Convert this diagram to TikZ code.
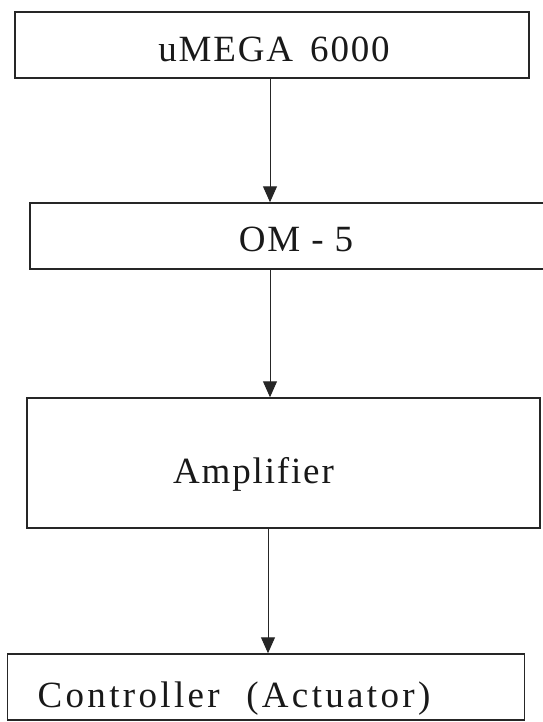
\documentclass[tikz,border=0pt]{standalone}
\usepackage{fontspec}
\usetikzlibrary{arrows.meta}
\newfontfamily\boxfont{Liberation Serif}[LetterSpace=5]
\begin{document}
\begin{tikzpicture}[x=1pt,y=-1pt,
  blockbox/.style={draw=black!85, line width=1.5pt, rectangle, inner sep=0pt},
  blocktext/.style={anchor=base, inner sep=0pt, font=\boxfont\fontsize{37}{44}\selectfont, text=black!90},
  flow/.style={draw=black!85, line width=1pt, -{Triangle[length=16pt,width=14pt]}}]
  \useasboundingbox (0,0) rectangle (542,722);
  \fill[white] (0,0) rectangle (542,722);

  % blocks
  \node[blockbox, minimum width=514pt, minimum height=66pt] (mega) at (272,45) {};
  \node[blockbox, minimum width=518pt, minimum height=66pt] (om)   at (289,236) {};
  \node[blockbox, minimum width=513pt, minimum height=130pt] (amp) at (283.5,463) {};
  \node[blockbox, minimum width=517pt, minimum height=66pt] (ctrl) at (266,687) {};

  % labels
  \node[blocktext] (megat) at (274,61.5) {uMEGA\hspace{6pt} 6000};
  \node[blocktext] (omt)   at (296,251.5) {OM - 5};
  \node[blocktext] (ampt)  at (253.5,483) {Amplifier};
  \node[blocktext] (ctrlt) at (234,707.5) {\addfontfeature{LetterSpace=9}Controller\hspace{14pt} (Actuator)};

  % signal path
  \coordinate (pa) at (270,0);
  \coordinate (pb) at (270,0);
  \coordinate (pc) at (268,0);
  \draw[flow] (mega.south -| pa) -- (om.north -| pa);
  \draw[flow] (om.south -| pb) -- (amp.north -| pb);
  \draw[flow] (amp.south -| pc) -- (ctrl.north -| pc);
\end{tikzpicture}
\end{document}
